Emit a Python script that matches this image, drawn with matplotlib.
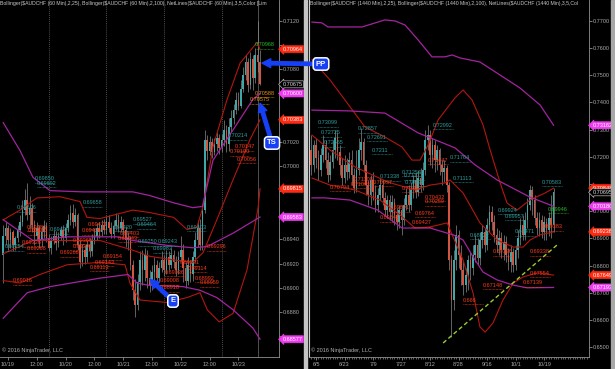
import matplotlib
matplotlib.use('Agg')
import matplotlib.pyplot as plt
from matplotlib.patches import Rectangle
from matplotlib.ticker import MultipleLocator, FuncFormatter
import numpy as np

plt.rcParams['font.family'] = ['Liberation Sans', 'DejaVu Sans']

# ---------------- AUDCHF 60 min (left) ----------------
hours = list(range(-2, 106))
h_open = [.6927, .6943, .6949, .6939, .6946, .6935, .6941, .6948, .6954, .6964, .6972, .6960,
          .6966, .6952, .6943, .6949, .6939, .6946, .6951, .6941, .6933, .6939, .6943, .6937,
          .6943, .6948, .6941, .6949, .6956, .6962, .6954, .6960, .6935, .6921, .6931, .6925,
          .6935, .6930, .6939, .6943, .6949, .6946, .6952, .6948, .6954, .6949, .6944, .6951,
          .6956, .6949, .6954, .6948, .6939, .6941, .6919, .6898, .6886, .6905, .6923, .6915,
          .6927, .6908, .6902, .6913, .6919, .6908, .6916, .6923, .6915, .6925, .6919, .6927,
          .6921, .6915, .6925, .6931, .6916, .6906, .6919, .6911, .6925, .6939, .6949, .6935,
          .6964, .7022, .7013, .7020, .7012, .7018, .7023, .7015, .7022, .7030, .7018, .7032,
          .7040, .7046, .7055, .7050, .7064, .7075, .7086, .7067, .7088, .7073, .7092, .7086]
h_close = [.6943, .6949, .6939, .6946, .6935, .6941, .6948, .6954, .6964, .6972, .6960, .6966,
           .6952, .6943, .6949, .6939, .6946, .6951, .6941, .6933, .6939, .6943, .6937, .6943,
           .6948, .6941, .6949, .6956, .6962, .6954, .6960, .6935, .6921, .6931, .6925, .6935,
           .6930, .6939, .6943, .6949, .6946, .6952, .6948, .6954, .6949, .6944, .6951, .6956,
           .6949, .6954, .6948, .6939, .6941, .6919, .6898, .6886, .6905, .6923, .6915, .6927,
           .6908, .6902, .6913, .6919, .6908, .6916, .6923, .6915, .6925, .6919, .6927, .6921,
           .6915, .6925, .6931, .6916, .6906, .6919, .6911, .6925, .6939, .6949, .6935, .6964,
           .7022, .7013, .7020, .7012, .7018, .7023, .7015, .7022, .7030, .7018, .7032, .7040,
           .7046, .7055, .7050, .7064, .7075, .7086, .7067, .7088, .7073, .7092, .7086, .70675]
h_high = [.6952, .6954, .6952, .6949, .6948, .6943, .6952, .6960, .6972, .6981, .6986, .6976,
          .6970, .6956, .6954, .6952, .6951, .6956, .6954, .6944, .6943, .6948, .6947, .6946,
          .6951, .6952, .6953, .6961, .6968, .6969, .6966, .6962, .6939, .6936, .6935, .6939,
          .6941, .6944, .6949, .6953, .6954, .6956, .6957, .6959, .6960, .6954, .6956, .6962,
          .6961, .6959, .6957, .6951, .6946, .6943, .6923, .6907, .6911, .6930, .6931, .6933,
          .6931, .6915, .6919, .6925, .6923, .6921, .6930, .6927, .6931, .6930, .6933, .6931,
          .6926, .6930, .6943, .6936, .6921, .6925, .6923, .6930, .6946, .6956, .6957, .6968,
          .7030, .7026, .7025, .7023, .7023, .7028, .7027, .7027, .7038, .7034, .7040, .7046,
          .7051, .7061, .7061, .7071, .7082, .7092, .7089, .7094, .7092, .7097, .7120, .7096]
h_low = [.6904, .6935, .6931, .6933, .6930, .6931, .6938, .6943, .6951, .6960, .6956, .6949,
         .6946, .6935, .6939, .6933, .6934, .6941, .6938, .6930, .6928, .6936, .6931, .6934,
         .6939, .6935, .6938, .6946, .6952, .6949, .6951, .6931, .6916, .6918, .6920, .6921,
         .6925, .6926, .6936, .6939, .6941, .6943, .6944, .6944, .6946, .6941, .6941, .6948,
         .6946, .6946, .6943, .6934, .6931, .6915, .6890, .6876, .6882, .6898, .6902, .6906,
         .6900, .6897, .6898, .6906, .6903, .6905, .6913, .6910, .6911, .6915, .6916, .6916,
         .6910, .6911, .6921, .6905, .6900, .6902, .6905, .6906, .6921, .6934, .6931, .6931,
         .6962, .7005, .7009, .7007, .7009, .7013, .7010, .7012, .7017, .7012, .7013, .7028,
         .7035, .7043, .7046, .7048, .7061, .7071, .7061, .7064, .7063, .7069, .7078, .7067]

# Bollinger bands (x = hour index)
bb25_up_x = [-2, 5, 12, 21.7, 30, 32.9, 38.3, 52, 59, 69, 74.6, 78.75, 81.25, 85.4, 91.25, 96.7, 103.75, 105]
bb25_up = [.6956, .6964, .6974, .6975, .6971, .6958, .6957, .6964, .6962, .6958, .6948, .6950, .6967,
           .7016, .7055, .7085, .7102, .70964]
bb25_mid_x = [-2, 10.4, 24.6, 38.3, 52, 59, 69, 77, 81.25, 87, 93.75, 100.8, 105]
bb25_mid = [.6928, .6939, .6939, .6939, .6931, .6926, .6923, .6921, .6929, .6956, .6989, .7022, .70383]
bb25_lo_x = [-2, 5, 13.3, 24.6, 38.3, 48.75, 50.8, 55, 66, 74.6, 80, 83, 88, 93.75, 99.6, 104.2, 105]
bb25_lo = [.6906, .6904, .6911, .6919, .6921, .6919, .6904, .6890, .6888, .6892, .6896, .6882, .6872,
           .6879, .6915, .6966, .69815]
bb100_up_x = [-2, 5, 10.4, 17.5, 31.3, 52, 59, 69, 77, 81, 85.4, 93.75, 102, 105]
bb100_up = [.7036, .7013, .6991, .6980, .6979, .6979, .6976, .6970, .6966, .6967, .7005, .7030, .7055, .70600]
bb100_mid_x = [-2, 10.4, 24.6, 45.4, 52, 66, 77, 83, 93.75, 105]
bb100_mid = [.6956, .6939, .6942, .6942, .6939, .6935, .6933, .6934, .6945, .69583]
bb100_lo_x = [-2, 8, 17.5, 38.3, 50, 53.75, 59, 73, 80, 87, 93.75, 102, 105]
bb100_lo = [.6875, .6896, .6901, .6908, .6911, .6904, .6902, .6901, .6898, .6892, .6882, .6867, .68577]

hour_ticks = [0, 12, 24, 36, 48, 60, 72, 84, 96]
hour_labels = ['10/19', '12:00', '10/20', '12:00', '10/21', '12:00', '10/22', '12:00', '10/23']
session_lines = [17, 41, 65, 89]
# price ticks hidden behind the marker tags
left_hidden = [0.7100, 0.7060, 0.7040, 0.6980, 0.6960, 0.6860]

# NetLines price labels (x, price, text)
left_teal = [(11.3, .6990, '0.69850'), (12.1, .6986, '0.69692'), (3.8, .6966, '0.69606'),
             (31.3, .6970, '0.69658'), (17.5, .6948, '0.69434'), (-1.3, .6934, '0.69254'),
             (52.1, .6956, '0.69527'), (53.8, .6952, '0.69464'), (43.75, .6950, '0.69420'),
             (54.2, .6938, '0.69250'), (62.5, .6938, '0.69243'), (60.4, .6932, '0.69083'),
             (74.6, .6950, '0.69403'), (91.7, .7025, '0.70214')]
left_red = [(7.9, .6950, '0.69486'), (8.3, .6947, '0.69466'), (5.8, .6937, '0.69326'),
            (7.9, .6932, '0.69268'), (2.1, .6906, '0.69016'), (33.3, .6952, '0.69471'),
            (30.8, .6947, '0.69426'), (27.1, .6939, '0.69369'), (27.1, .6934, '0.69302'),
            (21.5, .6929, '0.69266'), (46.7, .6945, '0.69403'), (45.8, .6941, '0.69343'),
            (39.6, .6926, '0.69154'), (36.25, .6921, '0.69143'), (34.2, .6917, '0.69113'),
            (63.3, .6906, '0.69008'), (63.3, .6900, '0.68918'), (71.7, .6921, '0.69131'),
            (75, .6916, '0.69114'), (65.4, .6913, '0.69036'), (77.9, .6908, '0.68992'),
            (80, .6904, '0.68959'), (82.9, .6934, '0.69296'), (94.6, .7016, '0.70147'),
            (92.5, .7012, '0.70100'), (95.4, .7006, '0.70056')]
left_orange = [(103, .7060, '0.70588'), (100.8, .7055, '0.70575')]
left_green = [(103, .7100, '0.70968')]

left_tags = [(.70964, '0.70964', 'red'), (.70675, '0.70675', 'last'), (.70600, '0.70600', 'mag'),
             (.70383, '0.70383', 'red'), (.69815, '0.69815', 'red'), (.69583, '0.69583', 'mag'),
             (.68577, '0.68577', 'mag')]

# ---------------- AUDCHF 1440 min (right) ----------------
days = list(range(-2, 101))
d_open = [.7225, .7170, .7244, .7196, .7152, .7207, .7244, .7188, .7133, .7181, .7225, .7269,
          .7218, .7170, .7122, .7170, .7144, .7188, .7133, .7085, .7152, .7225, .7255, .7170,
          .7096, .7060, .7115, .7071, .7023, .7060, .7096, .7049, .7004, .7041, .6997, .7034,
          .6986, .6960, .7004, .6968, .7023, .7060, .7023, .7078, .7115, .7071, .7122, .7096,
          .7152, .7262, .7280, .7207, .7244, .7188, .7225, .7170, .7144, .7159, .7096, .6820,
          .6673, .6820, .6913, .6839, .6784, .6728, .6765, .6820, .6791, .6839, .6876, .6828,
          .6894, .6924, .6876, .6949, .6997, .6960, .6913, .6876, .6902, .6857, .6887, .6839,
          .6813, .6850, .6802, .6857, .6902, .6949, .6913, .6968, .7023, .7078, .7041, .6975,
          .6938, .6968, .6924, .6960, .6931, .6975, .6949]
d_close = [.7170, .7244, .7196, .7152, .7207, .7244, .7188, .7133, .7181, .7225, .7269, .7218,
           .7170, .7122, .7170, .7144, .7188, .7133, .7085, .7152, .7225, .7255, .7170, .7096,
           .7060, .7115, .7071, .7023, .7060, .7096, .7049, .7004, .7041, .6997, .7034, .6986,
           .6960, .7004, .6968, .7023, .7060, .7023, .7078, .7115, .7071, .7122, .7096, .7152,
           .7262, .7280, .7207, .7244, .7188, .7225, .7170, .7144, .7159, .7096, .6820, .6673,
           .6820, .6913, .6839, .6784, .6728, .6765, .6820, .6791, .6839, .6876, .6828, .6894,
           .6924, .6876, .6949, .6997, .6960, .6913, .6876, .6902, .6857, .6887, .6839, .6813,
           .6850, .6802, .6857, .6902, .6949, .6913, .6968, .7023, .7078, .7041, .6975, .6938,
           .6968, .6924, .6960, .6931, .6975, .6949, .70695]
d_high = [.7280, .7262, .7269, .7225, .7233, .7280, .7262, .7218, .7207, .7262, .7299, .7291,
          .7244, .7196, .7207, .7196, .7218, .7225, .7159, .7225, .7269, .7306, .7269, .7188,
          .7115, .7133, .7144, .7096, .7085, .7122, .7115, .7071, .7060, .7060, .7060, .7049,
          .7012, .7023, .7023, .7049, .7085, .7096, .7107, .7133, .7144, .7152, .7159, .7181,
          .7299, .7317, .7299, .7269, .7262, .7244, .7233, .7188, .7188, .7170, .7107, .6839,
          .6857, .6949, .6931, .6876, .6813, .6791, .6839, .6850, .6876, .6913, .6902, .6924,
          .6949, .6938, .6975, .7023, .7019, .6986, .6938, .6931, .6924, .6913, .6909, .6865,
          .6876, .6865, .6876, .6931, .6975, .6986, .6997, .7049, .7096, .7093, .7060, .6997,
          .6997, .6986, .6983, .6975, .6997, .7060, .7085]
d_low = [.7133, .7144, .7159, .7115, .7130, .7181, .7159, .7107, .7115, .7159, .7196, .7188,
         .7133, .7096, .7104, .7115, .7122, .7096, .7067, .7071, .7133, .7188, .7144, .7060,
         .7023, .7023, .7041, .6997, .6997, .7041, .7023, .6983, .6975, .6968, .6960, .6949,
         .6931, .6938, .6913, .6949, .7004, .6997, .7004, .7049, .7049, .7056, .7071, .7078,
         .7133, .7225, .7170, .7159, .7144, .7152, .7133, .7096, .7107, .7071, .6784, .6537,
         .6636, .6784, .6791, .6728, .6692, .6703, .6710, .6747, .6765, .6813, .6802, .6802,
         .6865, .6850, .6857, .6924, .6931, .6887, .6850, .6839, .6828, .6820, .6813, .6784,
         .6776, .6776, .6784, .6828, .6876, .6894, .6894, .6938, .7004, .6986, .6949, .6913,
         .6909, .6902, .6894, .6894, .6909, .6902, .6924]

dbb25_up_x = [-1.7, 5.9, 12.2, 20.6, 29, 36.2, 40.4, 43.8, 47.2, 51.4, 58.5, 61.9, 65.7, 70.3, 73.3,
              77.5, 80.4, 84.6, 90, 96.4, 100]
dbb25_up = [.7557, .7483, .7409, .7310, .7273, .7236, .7188, .7188, .7244, .7336, .7417, .7446, .7409,
            .7317, .7225, .7104, .7030, .7004, .7041, .7067, .70848]
dbb25_mid_x = [-1.7, 5.9, 16.4, 30.3, 41.7, 48, 54.3, 56.4, 61.9, 69, 76.2, 83, 87.2, 90.1, 94.3, 100]
dbb25_mid = [.7280, .7225, .7163, .7107, .7078, .7096, .7104, .7115, .7067, .6957, .6894, .6868, .6868,
             .6894, .6913, .69238]
dbb25_lo_x = [-1.7, 5.9, 16.4, 26.9, 35.4, 41.7, 48, 55.2, 57.7, 61.9, 66.1, 69, 71.2, 74.5, 78.7, 83,
              87.2, 93.1, 100]
dbb25_lo = [.7122, .7096, .7078, .7041, .6986, .6938, .6942, .6957, .6905, .6820, .6699, .6574, .6555,
            .6589, .6673, .6736, .6758, .6773, .67649]
dbb100_up_x = [-1.7, 2.5, 5, 19.4, 29, 33.3, 37.5, 43, 48.8, 54.3, 57.3, 60.6, 69, 77.5, 85.9, 94.3, 100]
dbb100_up = [.7696, .7693, .7678, .7678, .7704, .7700, .7685, .7630, .7568, .7568, .7575, .7564, .7549,
             .7501, .7453, .7391, .73162]
dbb100_mid_x = [-1.7, 14.3, 29, 43, 58.5, 67, 76.2, 90, 100]
dbb100_mid = [.7372, .7369, .7361, .7288, .7233, .7170, .7115, .7052, .70180]
dbb100_lo_x = [-1.7, 3.8, 14.3, 26, 36.2, 48, 57.7, 61.9, 66.1, 70.3, 76.2, 83, 88.8, 100]
dbb100_lo = [.7049, .7049, .7041, .7004, .6938, .6938, .6913, .6894, .6832, .6776, .6747, .6728, .6718, .67193]

trend_x = [53.5, 101.5]
trend_y = [0.6515, 0.6876]

day_ticks = [0, 12, 24, 36, 48, 60, 72, 84, 96]
day_labels = ['6/5', '6/23', '7/9', '7/27', '8/12', '8/28', '9/16', '10/1', '10/19']
right_hidden = [0.7100]

right_teal = [(0.8, .7325, '0.73099'), (2.1, .7288, '0.72725'), (3.4, .7251, '0.72565'),
              (17.7, .7303, '0.72857'), (21.5, .7273, '0.72691'), (23.6, .7225, '0.7211'),
              (49.3, .7317, '0.72992'), (36.2, .7144, '0.71254'), (37.1, .7130, '0.71171'),
              (37.5, .7107, '0.70938'), (26.9, .7126, '0.71338'), (56.4, .7196, '0.71764'),
              (57.7, .7122, '0.71113'), (95.2, .7107, '0.70583'), (76.6, .7004, '0.69924'),
              (79.6, .6982, '0.69957'), (83.8, .6924, '0.69471'), (64.8, .6912, '0.68922')]
right_red = [(5.9, .7089, '0.70794'), (16.0, .7118, '0.71108'), (14.6, .7100, '0.71001'),
             (23.8, .7106, '0.70937'), (36.2, .7085, '0.70417'), (45.9, .7052, '0.70432'),
             (45.9, .7034, '0.70259'), (31.2, .7012, '0.69891'), (41.7, .6993, '0.69764'),
             (26.9, .6975, '0.69841'), (40.4, .6957, '0.69427'), (74.5, .6850, '0.69196'),
             (90.1, .6850, '0.69338'), (95.6, .6942, '0.69383'), (90.1, .6772, '0.67554'),
             (87.2, .6736, '0.67139'), (70.3, .6728, '0.67148'), (61.9, .6673, '0.666'),
             (47.2, .7188, '0.71447')]
right_green = [(97.7, .7008, '0.69946')]

right_tags = [(.73162, '0.73162', 'mag'), (.70848, '0.70848', 'red'), (.70695, '0.70695', 'last'),
              (.70180, '0.70180', 'mag'), (.69238, '0.69238', 'red'), (.67649, '0.67649', 'red'),
              (.67193, '0.67193', 'mag')]

# ---------------- drawing ----------------
UP = '#3fa7a7'
DOWN = '#d4553f'
WICK = '#8a8a8a'
RED_BAND = '#b3170f'
MAG_BAND = '#a3249f'
TEAL_TXT = '#2e9c9c'
RED_TXT = '#ff3a1a'
GRAY = '#a8a8a8'
BLUE = '#1640f5'


def candles(ax, x, o, h, l, c, w):
    x, o, h, l, c = map(np.asarray, (x, o, h, l, c))
    up = c >= o
    ax.vlines(x, l, h, color=WICK, lw=0.5, zorder=2)
    body = np.maximum(np.abs(c - o), 0.00004)
    ax.bar(x[up], body[up], w, bottom=o[up], color=UP, lw=0, zorder=3)
    ax.bar(x[~up], body[~up], w, bottom=c[~up], color=DOWN, lw=0, zorder=3)


def netlabels(ax, items, color, dx, dy):
    for x, y, t in items:
        ax.text(x, y, t, fontsize=4, color=color, va='center', ha='left', zorder=5, clip_on=True)
        ax.plot([x, x + dx], [y - dy, y - dy], color=color, lw=0.5, ls=(0, (1, 1)), zorder=5)


def tags(ax, items):
    styles = {'red': ('#ff2a12', '#ff2a12', 'white'),
              'mag': ('#f03cf0', '#f03cf0', 'white'),
              'last': ('black', '#b8b8b8', '#d8d8d8')}
    for y, t, kind in items:
        fc, ec, tc = styles[kind]
        ax.text(1.012, y, t, transform=ax.get_yaxis_transform(), fontsize=4, color=tc,
                va='center', ha='left', zorder=10, clip_on=False,
                bbox=dict(boxstyle='larrow,pad=0.18', fc=fc, ec=ec, lw=0.5))


def price_fmt(hidden):
    def f(v, pos):
        if any(abs(v - hv) < 1e-6 for hv in hidden):
            return ''
        return '%.4f' % v
    return FuncFormatter(f)


def style(ax):
    ax.set_facecolor('black')
    ax.yaxis.tick_right()
    ax.tick_params(axis='both', colors=GRAY, labelsize=4, length=2, width=0.5, pad=1)
    ax.tick_params(axis='x', pad=1.5)
    for s in ['top', 'left']:
        ax.spines[s].set_visible(False)
    for s in ['right', 'bottom']:
        ax.spines[s].set_color('#909090')
        ax.spines[s].set_linewidth(0.6)


fig = plt.figure(figsize=(6.15, 3.69), dpi=100, facecolor='black')
ax1 = fig.add_axes([0, 12 / 369, 279 / 615, 357 / 369])
ax2 = fig.add_axes([309 / 615, 12 / 369, 280 / 615, 357 / 369])
ax1.set_zorder(3)

# left panel
style(ax1)
ax1.set_xlim(-3.33, 112.9)
ax1.set_ylim(0.68431, 0.71369)
ax1.yaxis.set_major_locator(MultipleLocator(0.002))
ax1.yaxis.set_major_formatter(price_fmt(left_hidden))
ax1.set_xticks(hour_ticks)
ax1.set_xticklabels(hour_labels)
for v in session_lines:
    ax1.axvline(v, color='#6a6a6a', lw=0.6, ls=(0, (1, 1.5)), zorder=1)
ax1.axvline(104, color='#707070', lw=0.5, zorder=1)

candles(ax1, hours, h_open, h_high, h_low, h_close, 0.7)
ax1.plot(bb25_up_x, bb25_up, color=RED_BAND, lw=0.8, zorder=4)
ax1.plot(bb25_mid_x, bb25_mid, color=RED_BAND, lw=0.8, zorder=4)
ax1.plot(bb25_lo_x, bb25_lo, color=RED_BAND, lw=0.8, zorder=4)
ax1.plot(bb100_up_x, bb100_up, color=MAG_BAND, lw=0.9, zorder=4)
ax1.plot(bb100_mid_x, bb100_mid, color=MAG_BAND, lw=0.9, zorder=4)
ax1.plot(bb100_lo_x, bb100_lo, color=MAG_BAND, lw=0.9, zorder=4)

netlabels(ax1, left_teal, TEAL_TXT, 8, 0.00033)
netlabels(ax1, left_red, RED_TXT, 8, 0.00033)
netlabels(ax1, left_orange, '#e8900a', 8, 0.00033)
netlabels(ax1, left_green, '#22c022', 8, 0.00033)
tags(ax1, left_tags)

ax1.text(0.0, 0.997, 'Bollinger($AUDCHF (60 Min),2,25), Bollinger($AUDCHF (60 Min),2,100), '
         'NetLines($AUDCHF (60 Min),3,5,Color [Lim',
         transform=ax1.transAxes, fontsize=3.7, color='#c8c8c8', va='top', ha='left')
ax1.text(0.006, 0.01, '\u00a9 2016 NinjaTrader, LLC', transform=ax1.transAxes,
         fontsize=4, color='#b0b0b0', va='bottom', ha='left')

# right panel
style(ax2)
ax2.spines['left'].set_visible(True)
ax2.spines['left'].set_color('#d0d0d0')
ax2.set_xlim(-2.95, 114.9)
ax2.set_ylim(0.64634, 0.77772)
ax2.yaxis.set_major_locator(MultipleLocator(0.01))
ax2.yaxis.set_major_formatter(price_fmt(right_hidden))
ax2.set_xticks(day_ticks)
ax2.set_xticklabels(day_labels)
ax2.xaxis.set_minor_locator(MultipleLocator(1))
ax2.tick_params(axis='x', which='minor', length=1.5, width=0.4, colors=GRAY)

candles(ax2, days, d_open, d_high, d_low, d_close, 0.7)
ax2.plot(dbb25_up_x, dbb25_up, color=RED_BAND, lw=0.8, zorder=4)
ax2.plot(dbb25_mid_x, dbb25_mid, color=RED_BAND, lw=0.8, zorder=4)
ax2.plot(dbb25_lo_x, dbb25_lo, color=RED_BAND, lw=0.8, zorder=4)
ax2.plot(dbb100_up_x, dbb100_up, color=MAG_BAND, lw=0.9, zorder=4)
ax2.plot(dbb100_mid_x, dbb100_mid, color=MAG_BAND, lw=0.9, zorder=4)
ax2.plot(dbb100_lo_x, dbb100_lo, color=MAG_BAND, lw=0.9, zorder=4)
ax2.plot(trend_x, trend_y, color='#9acd32', lw=1.0, ls=(0, (3, 2)), zorder=6)

netlabels(ax2, right_teal, TEAL_TXT, 8.4, 0.0015)
netlabels(ax2, right_red, RED_TXT, 8.4, 0.0015)
netlabels(ax2, right_green, '#22c022', 8.4, 0.0015)
tags(ax2, right_tags)

ax2.text(0.005, 0.997, 'Bollinger($AUDCHF (1440 Min),2,25), Bollinger($AUDCHF (1440 Min),2,100), '
         'NetLines($AUDCHF (1440 Min),3,5,Col',
         transform=ax2.transAxes, fontsize=3.7, color='#c8c8c8', va='top', ha='left')
ax2.text(0.006, 0.01, '\u00a9 2016 NinjaTrader, LLC', transform=ax2.transAxes,
         fontsize=4, color='#b0b0b0', va='bottom', ha='left')

# blue callouts
box = dict(boxstyle='round,pad=0.35,rounding_size=0.4', fc=BLUE, ec='white', lw=1.1)
arrow = dict(arrowstyle='simple,head_length=0.9,head_width=0.9,tail_width=0.35',
             fc=BLUE, ec=BLUE, mutation_scale=7, shrinkA=0, shrinkB=0)
for txt, xy, xytext in [('PP', (105.8, 0.7085), (321, 305)),
                        ('TS', (105.0, 0.7052), (272, 226)),
                        ('E', (59.2, 0.6907), (173, 68))]:
    ax1.annotate(txt, xy=xy, xytext=xytext, textcoords='figure pixels', fontsize=5.5,
                 fontweight='bold', color='white', ha='center', va='center', bbox=box,
                 arrowprops=arrow, annotation_clip=False, zorder=20)

# panel splitters
fig.patches.append(Rectangle((304 / 615, 0), 3 / 615, 1, transform=fig.transFigure,
                             color='#c4c4c4', zorder=0))
fig.patches.append(Rectangle((611 / 615, 0), 3 / 615, 1, transform=fig.transFigure,
                             color='#a8a8a8', zorder=0))

fig.savefig('out.png', dpi=100, facecolor='black')
